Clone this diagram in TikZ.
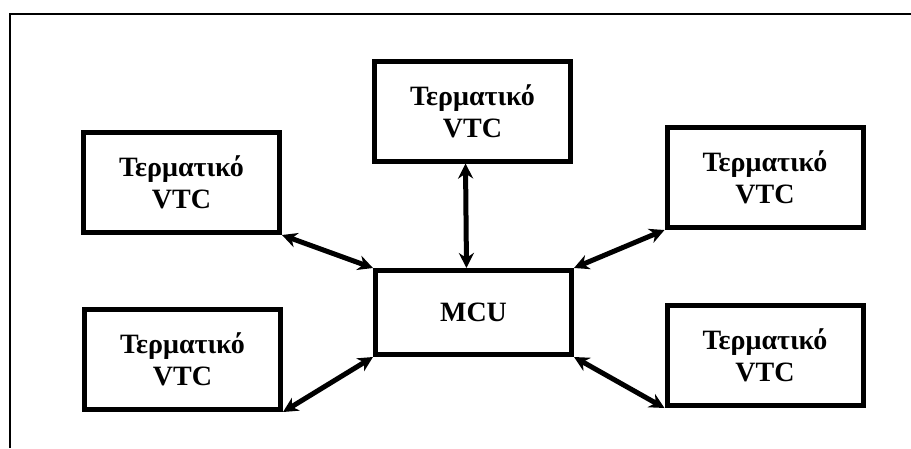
\documentclass[tikz,border=0pt]{standalone}
\usepackage{fontspec}
\setmainfont{Liberation Serif}
\usetikzlibrary{arrows.meta}

\begin{document}
\begin{tikzpicture}[x=1pt, y=-1pt,
    term/.style={draw, line width=5pt, inner sep=0pt, minimum width=196pt,
        minimum height=100pt, align=center, font=\fontsize{28}{32}\selectfont\bfseries},
    link/.style={line width=5pt, {Stealth[length=15pt,width=15pt]}-{Stealth[length=15pt,width=15pt]}}]
    \useasboundingbox (0,0) rectangle (911,448);

    % ===== πλαίσιο =====
    \draw[line width=2pt] (10,448) -- (10,14) -- (911,14);

    % ===== MCU =====
    \node[term, minimum height=84pt] (mcu) at (473.5,312.5) {MCU};

    % ===== τερματικά =====
    \node[term] (top) at (472.5,111) {Τερματικό\\VTC};
    \node[term] (tl) at (181.5,182.5) {Τερματικό\\VTC};
    \node[term] (tr) at (765,177.5) {Τερματικό\\VTC};
    \node[term] (bl) at (182.5,359.5) {Τερματικό\\VTC};
    \node[term] (br) at (765,355.5) {Τερματικό\\VTC};

    % ===== συνδέσεις =====
    \draw[link] ([xshift=-7pt]top.south) -- ([xshift=-7pt]mcu.north);
    \draw[link] (tl.south east) -- (mcu.north west);
    \draw[link] (tr.south west) -- (mcu.north east);
    \draw[link] (bl.south east) -- (mcu.south west);
    \draw[link] (br.south west) -- (mcu.south east);
\end{tikzpicture}
\end{document}
